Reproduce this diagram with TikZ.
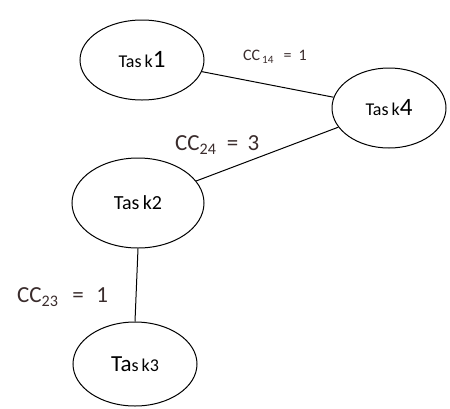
\documentclass[tikz,border=0pt]{standalone}
\usepackage{fontspec}
\setmainfont{Carlito}
\usetikzlibrary{shapes.geometric}
\definecolor{lbl}{HTML}{3A2C2C}
\begin{document}
\begin{tikzpicture}[x=1pt,y=-1pt,
  task/.style={ellipse,draw,line width=1pt,inner sep=0pt},
  link/.style={line width=1pt},
  cc/.style={inner sep=0pt,text=lbl}]
\useasboundingbox (0,0) rectangle (450,408);
\node[task,minimum width=124pt,minimum height=80pt] (t1) at (142,60) {\fontsize{18}{20}\selectfont Tas\,k\fontsize{25}{26}\selectfont 1};
\node[task,minimum width=114pt,minimum height=80pt] (t4) at (389,108) {\fontsize{18}{20}\selectfont Tas\,k\fontsize{25}{26}\selectfont 4};
\node[task,minimum width=132pt,minimum height=90pt] (t2) at (138,203) {\fontsize{20}{22}\selectfont Tas\,k2};
\node[task,minimum width=124pt,minimum height=84pt] (t3) at (135,364) {\fontsize{23}{24}\selectfont Ta\fontsize{18}{20}\selectfont s\,k3};
\draw[link] (t1) -- (t4);
\draw[link] (t2) -- (t4);
\draw[link] (t2.south) -- (t3.north);
\node[cc,anchor=west] (l14) at (243,57) {\fontsize{16}{17}\selectfont CC\textsubscript{\,14}\hspace{0.6em}=\hspace{0.45em}1};
\node[cc,anchor=west] (l24) at (175,145) {\fontsize{23}{24}\selectfont CC\textsubscript{24}\hspace{0.45em}=\hspace{0.4em}3};
\node[cc,anchor=west] (l23) at (17,297) {\fontsize{23}{24}\selectfont CC\textsubscript{23}\hspace{0.6em}=\hspace{0.55em}1};
\end{tikzpicture}
\end{document}
